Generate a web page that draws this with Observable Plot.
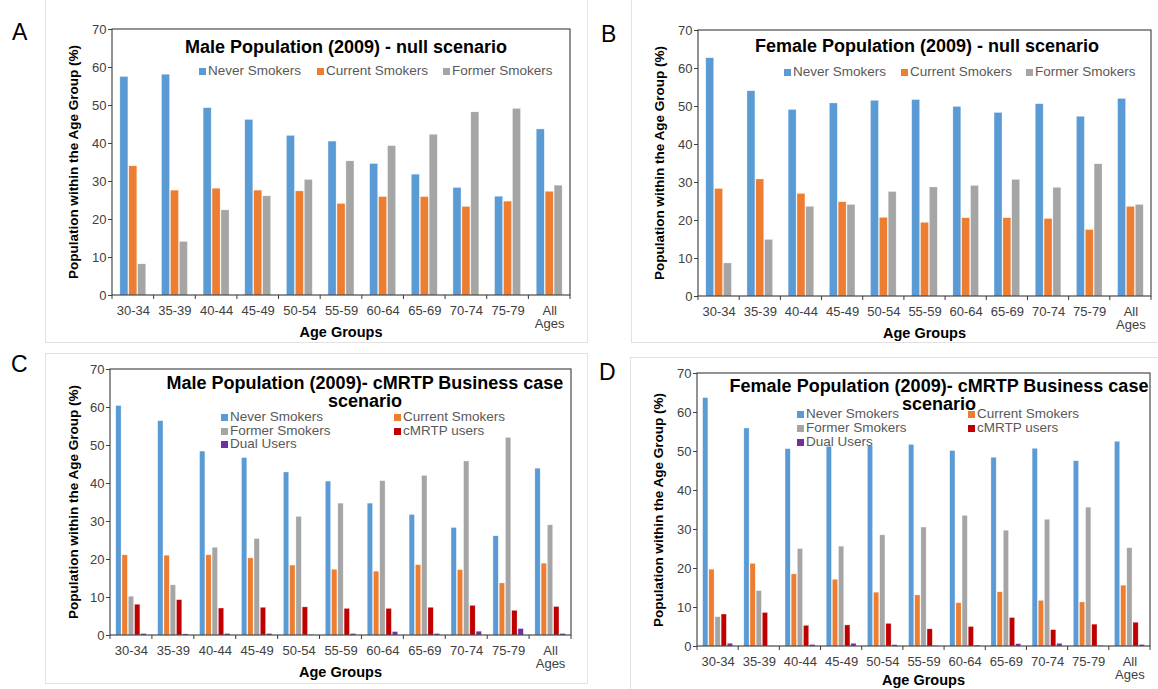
<!DOCTYPE html>
<html>
<head>
<meta charset="utf-8">
<script src="https://cdn.jsdelivr.net/npm/d3@7"></script>
<script src="https://cdn.jsdelivr.net/npm/@observablehq/plot@0.6"></script>
<style>
  html, body { margin: 0; padding: 0; background: #fff; }
  #root { position: relative; width: 1158px; height: 689px; overflow: hidden; font-family: "Liberation Sans", Arial, sans-serif; }
  .abs { position: absolute; white-space: nowrap; }
  .title { font-weight: bold; font-size: 18px; color: #000; text-align: center; line-height: 18px; }
  .leg { font-size: 13.5px; color: #595959; line-height: 14px; }
  .sw { position: absolute; width: 7px; height: 7px; }
  .ylab { font-weight: bold; font-size: 13.5px; color: #000; transform: translate(-50%, -50%) rotate(-90deg); }
  .xlab { font-weight: bold; font-size: 14.5px; color: #000; line-height: 15px; transform: translate(-50%, -50%); }
  .letter { font-size: 23px; color: #000; line-height: 23px; }
  .box { position: absolute; border: 1px solid #e2e2e2; }
</style>
</head>
<body>
<div id="root"></div>
<script>
// ---------- data ----------
const ageGroups = ["30-34","35-39","40-44","45-49","50-54","55-59","60-64","65-69","70-74","75-79","All Ages"];
const seriesNull = ["Never Smokers","Current Smokers","Former Smokers"];
const seriesBiz = ["Never Smokers","Current Smokers","Former Smokers","cMRTP users","Dual Users"];
const seriesColors = ["#5B9BD5","#ED7D31","#A5A5A5","#C00000","#7030A0"];
const yTicks = [0,10,20,30,40,50,60,70];

const maleNullNever   = [57.5,58.1,49.3,46.2,42.0,40.5,34.6,31.8,28.3,26.0,43.7];
const maleNullCurrent = [34.0,27.6,28.1,27.6,27.4,24.1,25.9,25.9,23.3,24.7,27.3];
const maleNullFormer  = [8.2,14.1,22.4,26.1,30.4,35.3,39.3,42.3,48.2,49.1,28.9];

const femaleNullNever   = [62.7,54.0,49.1,50.8,51.5,51.7,49.9,48.3,50.6,47.3,52.0];
const femaleNullCurrent = [28.3,30.8,27.0,24.8,20.7,19.4,20.6,20.6,20.4,17.5,23.6];
const femaleNullFormer  = [8.7,14.9,23.6,24.1,27.5,28.7,29.1,30.7,28.6,34.8,24.1];

const maleBizNever   = [60.4,56.4,48.4,46.7,42.9,40.5,34.7,31.7,28.3,26.1,43.9];
const maleBizCurrent = [21.1,21.0,21.1,20.3,18.4,17.3,16.8,18.5,17.2,13.7,18.9];
const maleBizFormer  = [10.2,13.2,23.1,25.4,31.2,34.7,40.6,42.0,45.8,52.0,29.0];
const maleBizCmrtp   = [8.1,9.3,7.1,7.3,7.4,7.0,7.0,7.3,7.8,6.5,7.5];
const maleBizDual    = [0.4,0.3,0.4,0.4,0.1,0.4,0.9,0.4,1.0,1.7,0.4];

const femaleBizNever   = [63.7,55.9,50.6,51.2,51.4,51.7,50.1,48.4,50.7,47.5,52.5];
const femaleBizCurrent = [19.7,21.2,18.5,17.1,13.8,13.1,11.1,13.9,11.7,11.3,15.6];
const femaleBizFormer  = [7.5,14.2,25.0,25.6,28.5,30.5,33.5,29.7,32.5,35.6,25.2];
const femaleBizCmrtp   = [8.2,8.6,5.3,5.4,5.8,4.4,5.0,7.3,4.2,5.6,6.1];
const femaleBizDual    = [0.7,0.05,0.4,0.7,0.35,0.15,0.25,0.6,0.7,0.15,0.4];

const titleA = ["Male Population (2009) - null scenario"];
const titleB = ["Female Population (2009) - null scenario"];
const titleC = ["Male Population (2009)- cMRTP Business case", "scenario"];
const titleD = ["Female Population (2009)- cMRTP Business case", "scenario"];
const yLabel = "Population within the Age Group (%)";
const xLabel = "Age Groups";

// ---------- helpers ----------
const root = document.getElementById("root");
function el(cls, css, text) {
  const d = document.createElement("div");
  d.className = cls;
  Object.assign(d.style, css);
  if (text != null) d.textContent = text;
  root.appendChild(d);
  return d;
}
function toTable(series, arrays) {
  const rows = [];
  series.forEach((s, si) => ageGroups.forEach((a, ai) => rows.push({age: a, series: s, value: arrays[si][ai]})));
  return rows;
}

function panel(cfg) {
  const mL = 45, mR = 5, mT = 5, mB = 40;
  const pw = cfg.x1 - cfg.x0, ph = cfg.y1 - cfg.y0;
  const width = pw + mL + mR, height = ph + mT + mB;
  const data = toTable(cfg.series, cfg.arrays);
  const plot = Plot.plot({
    width, height,
    marginLeft: mL, marginRight: mR, marginTop: mT, marginBottom: mB,
    style: {fontFamily: "'Liberation Sans', Arial, sans-serif", fontSize: "13px", color: "#404040", background: "transparent", overflow: "visible"},
    fx: {domain: ageGroups, padding: 0, round: false, label: null, axis: "bottom", tickSize: 0, tickPadding: 10,
         tickFormat: d => d === "All Ages" ? "All\nAges" : d},
    x: {domain: cfg.series, axis: null, round: false, paddingInner: cfg.pi, paddingOuter: cfg.po},
    y: {domain: [0, 70], ticks: yTicks, tickSize: 4, tickPadding: 2, label: null},
    color: {domain: cfg.series, range: seriesColors.slice(0, cfg.series.length)},
    marks: [
      Plot.barY(data, {fx: "age", x: "series", y: "value", fill: "series", stroke: "#ffffff", strokeOpacity: 0.6, strokeWidth: 0.5})
    ]
  });
  plot.style.position = "absolute";
  plot.style.left = (cfg.x0 - mL) + "px";
  plot.style.top = (cfg.y0 - mT) + "px";
  root.appendChild(plot);

  // frame + category boundary ticks, from the library's scales
  const fx = plot.scale("fx"), y = plot.scale("y");
  const yTop = y.apply(70), yBot = y.apply(0);
  const svg = d3.select(plot.tagName.toLowerCase() === "svg" ? plot : plot.querySelector("svg"));
  const xs = ageGroups.map(a => fx.apply(a));
  xs.push(fx.apply(ageGroups[ageGroups.length - 1]) + fx.bandwidth);
  const g = svg.append("g").attr("stroke", "#3a3a3a").attr("fill", "none");
  g.append("rect").attr("x", xs[0]).attr("y", yTop).attr("width", xs[xs.length - 1] - xs[0]).attr("height", yBot - yTop).attr("stroke-width", 1.1);
  xs.forEach(x => g.append("line").attr("x1", x).attr("x2", x).attr("y1", yBot).attr("y2", yBot + 4));

  // title
  cfg.title.forEach((t, i) => el("abs title", {left: (cfg.tx - 260) + "px", width: "520px", top: (cfg.ty - 9 + i * 18) + "px"}, t));
  // legend
  cfg.legend.forEach(([si, sx, sy]) => {
    el("sw", {left: sx + "px", top: (sy - 3.5) + "px", background: seriesColors[si]});
    el("abs leg", {left: (sx + 9) + "px", top: (sy - 7) + "px"}, cfg.series[si]);
  });
  // axis labels
  el("abs ylab", {left: (cfg.x0 - cfg.yLabOff) + "px", top: ((cfg.y0 + cfg.y1) / 2) + "px"}, yLabel);
  el("abs xlab", {left: ((cfg.x0 + cfg.x1) / 2) + "px", top: Math.min(cfg.y1 + 37, 680) + "px"}, xLabel);
}

// image borders
el("box", {left: "45px", top: "-2px", width: "541px", height: "343px"});
el("box", {left: "631px", top: "-2px", width: "540px", height: "343px"});
el("box", {left: "45px", top: "353px", width: "541px", height: "329px"});
el("box", {left: "630px", top: "357px", width: "540px", height: "340px"});

panel({x0: 112, x1: 570, y0: 29, y1: 295, series: seriesNull, arrays: [maleNullNever, maleNullCurrent, maleNullFormer],
  pi: 0.1, po: 0.88, title: titleA, tx: 346, ty: 47, yLabOff: 39,
  legend: [[0, 199, 71], [1, 317, 71], [2, 443, 71]]});
panel({x0: 698, x1: 1151, y0: 30, y1: 296, series: seriesNull, arrays: [femaleNullNever, femaleNullCurrent, femaleNullFormer],
  pi: 0.1, po: 0.88, title: titleB, tx: 927, ty: 46, yLabOff: 39,
  legend: [[0, 784, 72], [1, 901, 72], [2, 1026, 72]]});
panel({x0: 110, x1: 571, y0: 369, y1: 635, series: seriesBiz, arrays: [maleBizNever, maleBizCurrent, maleBizFormer, maleBizCmrtp, maleBizDual],
  pi: 0.15, po: 0.92, title: titleC, tx: 365, ty: 383, yLabOff: 37,
  legend: [[0, 221, 417], [1, 394, 417], [2, 221, 431], [3, 394, 431], [4, 221, 444]]});
panel({x0: 697, x1: 1150, y0: 373, y1: 646, series: seriesBiz, arrays: [femaleBizNever, femaleBizCurrent, femaleBizFormer, femaleBizCmrtp, femaleBizDual],
  pi: 0.15, po: 0.92, title: titleD, tx: 939, ty: 386, yLabOff: 39,
  legend: [[0, 797, 414], [1, 968, 414], [2, 797, 428], [3, 968, 428], [4, 797, 442]]});

// panel letters
el("abs letter", {left: "12px", top: "21px"}, "A");
el("abs letter", {left: "601px", top: "23px"}, "B");
el("abs letter", {left: "11px", top: "353px"}, "C");
el("abs letter", {left: "599px", top: "361px"}, "D");
</script>
</body>
</html>
